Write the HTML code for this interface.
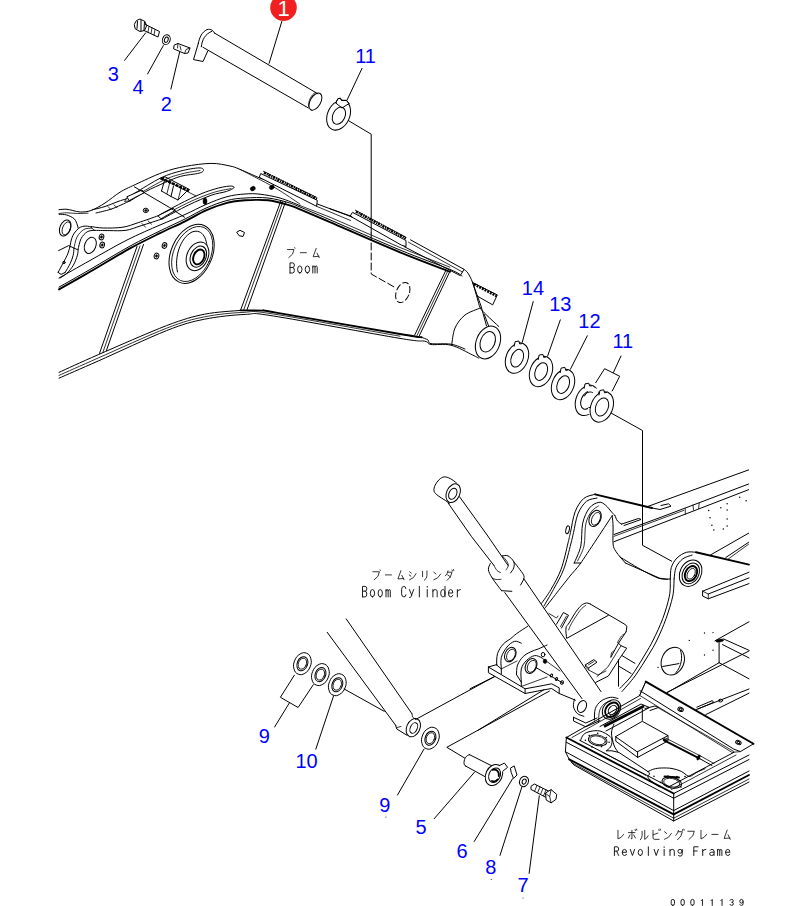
<!DOCTYPE html>
<html><head><meta charset="utf-8">
<style>
html,body{margin:0;padding:0;background:#fff;}
body{width:790px;height:906px;overflow:hidden;font-family:"Liberation Sans",sans-serif;}
svg{display:block;position:absolute;left:0;top:0;}
.l{fill:none;stroke:#000;stroke-width:1;stroke-linecap:round;stroke-linejoin:round;}
.h{fill:none;stroke:#000;stroke-width:0.8;stroke-linecap:round;stroke-linejoin:round;}
.k{fill:none;stroke:#000;stroke-width:1.9;stroke-linecap:round;stroke-linejoin:round;}
.kk{fill:none;stroke:#000;stroke-width:2.6;stroke-linecap:butt;stroke-linejoin:round;}
.w{fill:#fff;stroke:#000;stroke-width:1;stroke-linejoin:round;}
.b{fill:#000;stroke:#000;stroke-width:0.5;}
.n{font-family:"Liberation Sans",sans-serif;font-size:20px;fill:#0000ff;text-anchor:middle;}
.m{font-family:"Liberation Mono",monospace;font-size:15px;fill:#111;}
.j{fill:none;stroke:#111;stroke-width:0.95;stroke-linecap:round;stroke-linejoin:round;}
</style></head><body>
<svg width="790" height="906" viewBox="0 0 790 906">
<g id="A">
<circle cx="283.5" cy="7.6" r="13.3" fill="#f02020"/>
<text x="283.5" y="15.5" font-family="Liberation Sans,sans-serif" font-size="22" fill="#fff" text-anchor="middle">1</text>
<path class="l"  d="M281.8 21.5L269.1 63.3"/>
<path class="l"  d="M214.4 33L317.9 93.8"/>
<path class="l"  d="M203 47.3L308.4 108"/>
<ellipse class="l"  cx="315.4" cy="101.6" rx="5.2" ry="9.4" transform="rotate(30 315.4 101.6)"/>
<path class="h" d="M315.2 92.6C311.5 94.5 308 101 308.6 106.5"/>
<path class="l" d="M198.3 43.5C199.5 37 202 32 207 29.6C211 28.6 213.5 30.5 214.4 33M198.3 43.5L193.5 59.6L203 61.5L207.8 51M201.3 46.8C202 40 205 34 212 31.2"/>
<path class="l"  d="M145.6 32.9L124.6 60.3"/>
<path class="l"  d="M163.3 45.6L147.6 73.9"/>
<path class="l"  d="M179.7 51.9L170.9 89.1"/>
<ellipse class="l"  cx="166.3" cy="39.7" rx="3.8" ry="5" transform="rotate(20 166.3 39.7)"/>
<ellipse class="l"  cx="166.3" cy="39.7" rx="1.8" ry="2.8" transform="rotate(20 166.3 39.7)"/>
<path class="l"  d="M134.5 24L136.5 20.5L140 19L145 21.5L146.5 26L144.5 30.5L140 31.5L135.5 29Z"/>
<path class="l"  d="M137.5 21.5L137 28.5"/>
<path class="l"  d="M141 20L141 31"/>
<path class="l"  d="M144.5 22L144 30"/>
<path class="l"  d="M145.5 24.5L159.5 31.5L158 37L144 30.5"/>
<path class="h"  d="M149 26.5L148 32"/>
<path class="h"  d="M152 28L151 33.5"/>
<path class="h"  d="M155 29.5L154 35"/>
<path class="l"  d="M174.5 45L178 43.5L190 48L188 53L184.5 53.5L174 49Z"/>
<path class="h"  d="M178 43.5L177.5 48"/>
<path class="h"  d="M184.5 53.5L186 49.5L190 48"/>
<path class="h"  d="M180 46L181 50"/>
<text class="n" x="113.2" y="80.6">3</text>
<text class="n" x="138" y="94">4</text>
<text class="n" x="166.3" y="110.5">2</text>
<text class="n" x="365.6" y="62.9">11</text>
<path class="l"  d="M362 68.4L347 100.2"/>
<ellipse class="w"  cx="338.6" cy="115.2" rx="11" ry="15.6" transform="rotate(25 338.6 115.2)"/>
<path class="w" d="M335.8 103L337.8 98.8L340.4 98.2L341.6 100.4L346.5 100.4L349 103.5L342 108Z" stroke="none"/>
<path class="l"  d="M335.8 103L337.8 98.8L340.4 98.2L341.6 100.4L346.5 100.4L349.3 104"/>
<ellipse class="l"  cx="338.9" cy="115.7" rx="6.1" ry="9" transform="rotate(25 338.9 115.7)"/>
<path class="l"  d="M348.4 120.6L371.2 134.2L371.2 233"/>
<path class="l" stroke-dasharray="7 3" d="M371.2 233L371.2 274L396 288"/>
<ellipse class="l" stroke-dasharray="6 3" cx="402.8" cy="292.5" rx="6.5" ry="10.5" transform="rotate(22 402.8 292.5)"/>
</g>
<g id="B">
<path class="l"  d="M59 209.7C60.2 209.6 63.7 209.1 66 209.2C68.3 209.3 70.4 210 72.8 210.5C75.2 211 77.4 212 80.4 212C83.4 212 86.9 212 91 210.5C95.1 209 100.2 206.1 105 203C109.8 199.9 115 195.3 120 192.2C125 189.1 128.1 187.9 135.2 184.6C142.3 181.3 154.2 175.5 162.5 172.5C170.8 169.5 177.2 167.9 185.3 166.4C193.4 164.9 203.7 163.5 211.1 163.4C218.5 163.3 225.2 165 230 166C234.8 167 234.7 167.2 240 169.4C245.3 171.6 258.3 177.4 262 179"/>
<path class="h"  d="M59 213.5C60.3 213.4 63.7 212.8 66.7 212.8C69.8 212.8 73.8 213.4 77.3 213.5C80.8 213.6 86.2 213.2 88 213.2"/>
<path class="h"  d="M240 169.4C241.6 170.2 243.8 171.3 249.7 174.4C255.6 177.5 267.2 183.2 275.6 188.1C284 193 295.8 201.3 299.9 204"/>
<path class="l"  d="M59 278C64.2 275.1 78.7 266.8 90 260.5C101.3 254.2 115.3 245.9 127 240C138.7 234.1 150.3 229.2 160 225C169.7 220.8 177.3 217.9 185 214.5C192.7 211.1 199 207.5 206 204.5C213 201.5 220.5 198.4 227 196.7C233.5 194.9 239.5 194.4 245 194C250.5 193.6 254.2 193.5 260 194.2C265.8 194.9 273.3 196.1 280 198C286.7 199.9 296.7 204.3 300 205.6"/>
<path class="l"  d="M59 287.1C64.2 284.2 78.2 276.3 90 269.5C101.8 262.7 118.3 252.5 130 246.1C141.7 239.7 150.8 235.4 160 230.9C169.2 226.4 177.3 222.8 185 219C192.7 215.2 199 211.2 206 208.1C213 205 220.5 202.2 227 200.5C233.5 198.8 238.2 198.4 245 198C251.8 197.6 260.8 197.2 268 198C275.2 198.8 282.7 201 288 202.5C293.3 204 293 204.1 300 207C307 209.9 313.3 212.6 330 219.8C346.7 227 380 241.7 400 250C420 258.3 439.7 265.1 450 269.4C460.3 273.7 460 274.9 462 276"/>
<path class="k"  d="M59 289.4C64.2 286.5 78.2 278.6 90 271.8C101.8 265 118.3 254.8 130 248.4C141.7 242 150.8 237.7 160 233.2C169.2 228.7 177.3 225.1 185 221.3C192.7 217.5 199 213.5 206 210.4C213 207.3 220.5 204.5 227 202.8C233.5 201.1 238.2 200.7 245 200.3C251.8 199.9 260.8 199.6 268 200.3C275.2 201.1 282.7 203.3 288 204.8C293.3 206.3 293 206.4 300 209.3C307 212.2 313.3 214.9 330 222.1C346.7 229.3 380 244 400 252.3C420 260.6 441.7 268.5 450 271.7"/>
<path class="l"  d="M317.3 204L352 217"/>
<path class="h"  d="M316.6 206.3L350.5 220.5"/>
<path class="h"  d="M300 205.6L330 217.2L400 247.5L450 267.2"/>
<path class="l"  d="M261.1 173.7L317.3 200.3L316.6 206.3L259.6 177.5Z"/>
<path class="kk" stroke-dasharray="2.2 0.9 1.2 0.7" d="M264 172.6L317 198.8"/>
<path class="l" stroke-dasharray="1 1.4" d="M263.5 171.3L316.5 197.3"/>
<path class="l"  d="M352.8 212.5L406 240.5L406 246.6L401.4 245.1L350.5 216.3Z"/>
<path class="kk" stroke-dasharray="2.2 0.9 1.2 0.7" d="M356 211.6L406 238.4"/>
<path class="l" stroke-dasharray="1 1.4" d="M355.5 210.3L405.5 237"/>
<path class="l"  d="M330 208.7L351.3 216.3"/>
<path class="l"  d="M410.5 239.8L464.1 269.4L460.2 275.6L404 246.5"/>
<path class="h"  d="M408.5 242.2L462.5 272"/>
<ellipse class="b"  cx="252.8" cy="188.6" rx="2.6" ry="2.1" transform="rotate(-30 252.8 188.6)"/>
<ellipse class="b"  cx="271.8" cy="187.3" rx="2.6" ry="2.1" transform="rotate(-30 271.8 187.3)"/>
<ellipse class="b"  cx="205" cy="201.3" rx="2" ry="3.2" transform="rotate(0 205 201.3)"/>
<path class="l"  d="M237 232L240 230.3L244.5 232.5L243 236.5L239.5 235.8Z"/>
<path class="l"  d="M126 199C127.5 198 129.2 196.5 135 193C140.8 189.5 153.4 181.5 161 177.8C168.6 174.1 174.5 172.7 180.8 171C187.1 169.3 195.2 168 199 167.9C202.8 167.8 203.5 169.3 203.5 170.2C203.5 171.1 202.8 172.2 199 173.2C195.2 174.2 186.4 174.8 180.8 176.3C175.2 177.8 171.4 179.8 165.6 182.3C159.8 184.8 151.6 188.4 145.8 191.5C140 194.6 133.1 199.1 130.6 200.6"/>
<path class="h"  d="M131 198.5C136.3 195.5 154.5 184.6 163 180.5C171.5 176.4 175.8 175.5 182 173.8C188.2 172.1 197 171.1 200 170.5"/>
<path class="l"  d="M158 215.8C160.5 214.4 166.9 210.7 173.2 207.4C179.5 204.1 189.2 199 196 196C202.8 193 208.6 190.8 214.2 189.2C219.8 187.5 226.1 186.3 229.4 186.1C232.7 185.8 234.5 186.8 234 187.7C233.5 188.6 230.1 190.2 226.3 191.5C222.5 192.8 217.4 193 211.1 195.3C204.8 197.6 196.5 201.2 188.4 205.1C180.3 209 166.8 216.5 162.5 218.8"/>
<path class="h"  d="M163 215.5C167.5 213.2 181.7 205.6 190 201.8C198.3 198 206.2 194.8 213 192.6C219.8 190.4 228 189.3 231 188.6"/>
<path class="l"  d="M92.5 209.7C94.6 209.2 100.8 207.9 105 206.5C109.2 205.1 114.5 202.8 118 201.5C121.5 200.2 124.7 199.4 126 199"/>
<path class="l"  d="M96 213C98.3 212.4 105.8 210.8 110 209.5C114.2 208.2 117.6 206.5 121 205C124.4 203.5 129 201.3 130.6 200.6"/>
<path class="h"  d="M126 199L124.5 201.5L130.6 200.6"/>
<path class="h"  d="M148 220.8L151.5 224.2"/>
<path class="h"  d="M142 223.5L145.5 227.2"/>
<path class="h"  d="M114 204.8L117 207.8"/>
<path class="h"  d="M108 206.6L111 209.6"/>
<path class="w"  d="M126.8 196.8L142 190L144.3 192.7L129.1 200.6Z"/>
<path class="w"  d="M158 215.8L173.2 208.2L175.4 210.4L161 218.8Z"/>
<path class="l"  d="M134.4 186.9L169.4 207.4L184.6 217.3"/>
<path class="h"  d="M161 177.8L196 196"/>
<path class="l"  d="M160.5 179L165 176.8L189.5 189.5L186.5 191.5L178 200L171 196.5L161.5 191"/>
<path class="l"  d="M161.5 191L164.5 180.5"/>
<path class="l"  d="M171 196.5L173.5 186"/>
<path class="h"  d="M178 200L181 188.5"/>
<path class="h"  d="M167 193.5L169.5 183.5"/>
<path class="kk" stroke-dasharray="3 1" d="M161 178.2L189 191"/>
<ellipse class="l"  cx="145.8" cy="210.4" rx="2.6" ry="2.2" transform="rotate(0 145.8 210.4)"/>
<ellipse class="b"  cx="145.8" cy="210.4" rx="1.2" ry="1" transform="rotate(0 145.8 210.4)"/>
<path class="l"  d="M59 372.4C65.5 369.4 80.3 362.5 98.2 354.7C116.1 346.9 148.9 332.4 166.6 325.6C184.3 318.9 192.3 316.7 204.6 314.2C216.9 311.7 234.5 311 240.5 310.4"/>
<path class="k"  d="M240.5 310.4C244.3 310.4 257.4 310.2 263.3 310.6C269.2 311 253.2 308.7 276 312.6C298.8 316.5 375.7 329.9 400 334C424.3 338.1 418 336.8 421.6 337.3"/>
<path class="h"  d="M59 375.4C65.5 372.5 80.3 365.9 98.2 358C116.1 350.1 148.9 335.1 166.6 328.2C184.3 321.3 191.9 319.4 204.6 316.8C217.3 314.2 231.5 312.9 243 312.4C254.5 311.9 247.2 310 273.4 314C299.6 318 378.9 332.5 400 336.2"/>
<path class="l"  d="M59 378.2C65.5 375.3 80.3 368.9 98.2 361C116.1 353.1 148.9 337.6 166.6 330.6C184.3 323.6 191.4 321.9 204.6 319.2C217.8 316.5 234.1 314.9 245.6 314.4C257.1 313.9 247.7 312 273.4 316C299.1 320 374.8 334.2 400 338.4C425.2 342.6 419.6 340.2 424.7 341.2C429.8 342.2 426.5 343.8 430.9 344.5C435.3 345.2 444.1 343.4 451 345.2C457.9 346.9 468 352.8 472.6 355C477.2 357.2 477.8 357.7 478.8 358.2"/>
<path class="l"  d="M421.6 337.3C422.7 337.8 426.4 338.9 428 340C429.6 341.1 427.2 342.9 431 343.6C434.8 344.3 445.3 343.3 451 344.2C456.7 345.1 462.7 348.2 465 349"/>
<path class="l"  d="M137 246.5L99.5 353.4"/>
<path class="h"  d="M140 246L102.8 352.6"/>
<path class="l"  d="M143.5 244.5L106.3 350.9"/>
<path class="l"  d="M281 200.6L240.5 310.4"/>
<path class="h"  d="M283 201.2L243.5 310.4"/>
<path class="l"  d="M285.5 202L246.8 310.4"/>
<path class="l"  d="M445.6 270.9L414.7 335"/>
<path class="h"  d="M447.5 271.7L417 335.4"/>
<path class="l"  d="M449.4 272.5L419.3 335.8"/>
<ellipse class="l"  cx="191.6" cy="253.8" rx="20.5" ry="31" transform="rotate(24 191.6 253.8)"/>
<ellipse class="h"  cx="192.2" cy="254" rx="18.5" ry="29" transform="rotate(24 192.2 254)"/>
<path class="l" d="M177.5 272C174 258 180 238 192 232C203 228 208 240 207 252"/>
<ellipse class="w"  cx="197.5" cy="256.3" rx="10.5" ry="15" transform="rotate(24 197.5 256.3)"/>
<ellipse class="l"  cx="198.3" cy="256.6" rx="7.6" ry="11" transform="rotate(24 198.3 256.6)"/>
<ellipse class="k"  cx="198.8" cy="256.9" rx="5.2" ry="7.8" transform="rotate(24 198.8 256.9)"/>
<ellipse class="l"  cx="164.5" cy="245.5" rx="2.3" ry="2.9" transform="rotate(15 164.5 245.5)"/>
<ellipse class="b"  cx="164.5" cy="245.5" rx="1" ry="1.3" transform="rotate(15 164.5 245.5)"/>
<ellipse class="l"  cx="156.5" cy="256" rx="2.3" ry="2.9" transform="rotate(15 156.5 256)"/>
<ellipse class="b"  cx="156.5" cy="256" rx="1" ry="1.3" transform="rotate(15 156.5 256)"/>
<ellipse class="l"  cx="102.2" cy="245" rx="2.3" ry="2.9" transform="rotate(15 102.2 245)"/>
<ellipse class="b"  cx="102.2" cy="245" rx="1" ry="1.3" transform="rotate(15 102.2 245)"/>
<ellipse class="l"  cx="101.5" cy="237" rx="2.3" ry="2.9" transform="rotate(15 101.5 237)"/>
<ellipse class="b"  cx="101.5" cy="237" rx="1" ry="1.3" transform="rotate(15 101.5 237)"/>
<ellipse class="l"  cx="65.2" cy="228" rx="5.3" ry="8.4" transform="rotate(22 65.2 228)"/>
<ellipse class="h"  cx="66.4" cy="228.4" rx="3.8" ry="6.8" transform="rotate(22 66.4 228.4)"/>
<path class="l"  d="M59.1 214.3C60.4 214.4 64.2 214.2 66.7 215C69.2 215.8 72.5 217.2 74.3 218.9C76.1 220.6 76.7 223.5 77.3 225C77.9 226.5 78 227.5 78.1 228"/>
<ellipse class="l" stroke-width="1.5" cx="90.3" cy="245.4" rx="5.6" ry="8.4" transform="rotate(22 90.3 245.4)"/>
<path class="l"  d="M69.7 247.7C70.2 245.7 71 239 72.8 235.6C74.6 232.2 77.6 228.7 80.4 227.2C83.2 225.7 87.2 226 89.5 226.5C91.8 227 93.2 229.7 94 230.3"/>
<path class="h"  d="M73.9 248.5C74.4 246.6 75.3 240.2 77 237C78.7 233.8 81.4 231 83.8 229.5C86.2 228 90.2 228.4 91.5 228.2"/>
<path class="l"  d="M78.1 249.2C78.6 247.4 79.6 241.5 81.1 238.6C82.6 235.7 85 233.2 87.2 231.8C89.4 230.4 92.9 230.6 94 230.3"/>
<path class="l"  d="M69.7 247.7C69.3 248.9 68.3 252.7 67.2 255.2C66.1 257.7 64.7 259.9 63.2 262.8C61.7 265.7 59 270.8 58.1 272.4"/>
<path class="l"  d="M58.1 272.4L61.1 274.4L65.2 272.4"/>
<path class="l"  d="M73.9 248.5C73.8 249.6 73.8 252.7 73.2 255.2C72.6 257.7 71.6 260.4 70.3 263.3C69 266.2 66 270.9 65.2 272.4"/>
<path class="l"  d="M78.1 249.2C78 250.2 78.2 252.5 77.4 255.2C76.6 257.9 75.1 262.3 73.3 265.3C71.5 268.3 68.9 271.3 66.7 273.4C64.5 275.5 61.2 277.2 60.1 278"/>
<path class="l"  d="M58.6 250.6L68.7 245.6L77.3 249.6"/>
<ellipse class="l"  cx="64" cy="262.5" rx="1.2" ry="1.2" transform="rotate(0 64 262.5)"/>
<path class="l"  d="M91 226.5C93 226.8 97.9 227.9 103.2 228C108.5 228.1 117.1 228.1 122.9 227.2C128.7 226.3 132.2 224.6 138.1 222.7C143.9 220.8 154.7 217 158 215.8"/>
<path class="l"  d="M94 230.3C96.5 230.4 103.9 230.6 109.2 230.6C114.5 230.6 120.7 231.1 126 230.3C131.3 229.5 135 227.6 141.1 225.7C147.2 223.8 158.9 220 162.5 218.8"/>
<path class="l"  d="M480.3 308C477.8 309.2 469.2 311.7 465 315C460.8 318.3 457.2 323 455 328C452.8 333 452.2 342.2 451.7 345"/>
<path class="l"  d="M464.1 269.4C464.8 270 466.6 271 468 273.2C469.4 275.4 471.1 278.4 472.6 282.5C474.1 286.6 475.9 293.8 477.2 298C478.5 302.2 478.8 305.2 480.3 308C481.9 310.8 483.4 311.9 486.5 315C489.6 318.1 496.8 324.6 498.8 326.5"/>
<path class="l"  d="M472.6 282.5L481 306L486.5 325.8"/>
<path class="l"  d="M484.2 314.2L488.8 326.5"/>
<ellipse class="w"  cx="488" cy="342.5" rx="11.8" ry="17" transform="rotate(22 488 342.5)"/>
<ellipse class="l"  cx="487.7" cy="341.8" rx="7.2" ry="10.6" transform="rotate(22 487.7 341.8)"/>
<path class="l"  d="M472.6 282.5L497.3 294.9L492.7 304.9L477.2 296"/>
<path class="kk" stroke-dasharray="2 1" d="M474 284.2L496.5 296"/>
</g>
<g id="TXT">
<path class="j" transform="translate(286.6 247.3) scale(0.87 0.9)" d="M1 2.5L8.5 2.5Q8.3 8 2.5 11.5M9.3 0.4L9.6 1"/>
<path class="j" transform="translate(299 247.3) scale(0.87 0.9)" d="M1.5 6L8.5 6"/>
<path class="j" transform="translate(311.4 247.3) scale(0.87 0.9)" d="M5.5 1.2L2 10.5L8.6 10M6.5 6.5L9 11.5"/>
<path class="j" stroke-width="1.0" vector-effect="non-scaling-stroke" transform="translate(290 273) scale(0.88 -1.01)" d="M0 0L0 10L3 10Q5 10 5 7.8Q5 5.5 3 5.5L0 5.5M3 5.5Q5 5.5 5 2.8Q5 0 3 0L0 0"/>
<path class="j" stroke-width="1.0" vector-effect="non-scaling-stroke" transform="translate(297.6 273) scale(0.88 -1.01)" d="M2.5 0Q0 0 0 3.5Q0 7 2.5 7Q5 7 5 3.5Q5 0 2.5 0Z"/>
<path class="j" stroke-width="1.0" vector-effect="non-scaling-stroke" transform="translate(305.2 273) scale(0.88 -1.01)" d="M2.5 0Q0 0 0 3.5Q0 7 2.5 7Q5 7 5 3.5Q5 0 2.5 0Z"/>
<path class="j" stroke-width="1.0" vector-effect="non-scaling-stroke" transform="translate(312.8 273) scale(0.88 -1.01)" d="M0 0L0 7M0 5.8Q0.3 7 1.4 7Q2.5 7 2.5 5.5L2.5 0M2.5 5.8Q2.8 7 3.9 7Q5 7 5 5.5L5 0"/>
<path class="j" transform="translate(372 569.5) scale(0.87 0.9)" d="M1 2.5L8.5 2.5Q8.3 8 2.5 11.5M9.3 0.4L9.6 1"/>
<path class="j" transform="translate(384.1 569.5) scale(0.87 0.9)" d="M1.5 6L8.5 6"/>
<path class="j" transform="translate(396.2 569.5) scale(0.87 0.9)" d="M5.5 1.2L2 10.5L8.6 10M6.5 6.5L9 11.5"/>
<path class="j" transform="translate(408.3 569.5) scale(0.87 0.9)" d="M1.5 2.5L3.5 4M1 6L3 7.5M1.5 11.5Q6.8 10 9 4.5"/>
<path class="j" transform="translate(420.4 569.5) scale(0.87 0.9)" d="M2.5 2L2.5 8M7.5 1.5L7.5 7Q7.5 10 4.5 12"/>
<path class="j" transform="translate(432.5 569.5) scale(0.87 0.9)" d="M1.5 3L4 5M1.5 11.5Q6.5 10.5 9.5 5"/>
<path class="j" transform="translate(444.6 569.5) scale(0.87 0.9)" d="M4 1.5Q3.5 4.5 1 7M4 3L8.5 3Q8 8 3 12M3.5 6L7 8.5M8.6 0.6L9 1.8M10.2 0L10.6 1.2"/>
<path class="j" stroke-width="1.0" vector-effect="non-scaling-stroke" transform="translate(362.5 596.9) scale(0.86 -1.05)" d="M0 0L0 10L3 10Q5 10 5 7.8Q5 5.5 3 5.5L0 5.5M3 5.5Q5 5.5 5 2.8Q5 0 3 0L0 0"/>
<path class="j" stroke-width="1.0" vector-effect="non-scaling-stroke" transform="translate(370.3 596.9) scale(0.86 -1.05)" d="M2.5 0Q0 0 0 3.5Q0 7 2.5 7Q5 7 5 3.5Q5 0 2.5 0Z"/>
<path class="j" stroke-width="1.0" vector-effect="non-scaling-stroke" transform="translate(378.1 596.9) scale(0.86 -1.05)" d="M2.5 0Q0 0 0 3.5Q0 7 2.5 7Q5 7 5 3.5Q5 0 2.5 0Z"/>
<path class="j" stroke-width="1.0" vector-effect="non-scaling-stroke" transform="translate(386 596.9) scale(0.86 -1.05)" d="M0 0L0 7M0 5.8Q0.3 7 1.4 7Q2.5 7 2.5 5.5L2.5 0M2.5 5.8Q2.8 7 3.9 7Q5 7 5 5.5L5 0"/>
<path class="j" stroke-width="1.0" vector-effect="non-scaling-stroke" transform="translate(401.6 596.9) scale(0.86 -1.05)" d="M5 8Q5 10 2.7 10Q0 10 0 7L0 3Q0 0 2.7 0Q5 0 5 2"/>
<path class="j" stroke-width="1.0" vector-effect="non-scaling-stroke" transform="translate(409.4 596.9) scale(0.86 -1.05)" d="M0 7L2.6 1.8M5 7L2.6 1.8L1.8 0Q1.4 -0.6 0.3 -0.6"/>
<path class="j" stroke-width="1.0" vector-effect="non-scaling-stroke" transform="translate(417.2 596.9) scale(0.86 -1.05)" d="M2.5 10L2.5 0"/>
<path class="j" stroke-width="1.0" vector-effect="non-scaling-stroke" transform="translate(425.1 596.9) scale(0.86 -1.05)" d="M2.5 7L2.5 0M2.5 9.2L2.5 10"/>
<path class="j" stroke-width="1.0" vector-effect="non-scaling-stroke" transform="translate(432.9 596.9) scale(0.86 -1.05)" d="M0 0L0 7M0 5.3Q0.6 7 2.7 7Q5 7 5 5L5 0"/>
<path class="j" stroke-width="1.0" vector-effect="non-scaling-stroke" transform="translate(440.7 596.9) scale(0.86 -1.05)" d="M5 10L5 0M5 3.5Q5 0 2.5 0Q0 0 0 3.5Q0 7 2.5 7Q5 7 5 3.5"/>
<path class="j" stroke-width="1.0" vector-effect="non-scaling-stroke" transform="translate(448.5 596.9) scale(0.86 -1.05)" d="M0 3.7L5 3.7Q5 7 2.5 7Q0 7 0 3.5Q0 0 2.5 0Q4.3 0 5 1.5"/>
<path class="j" stroke-width="1.0" vector-effect="non-scaling-stroke" transform="translate(456.3 596.9) scale(0.86 -1.05)" d="M1.2 0L1.2 7M1.2 5Q2 7 4.8 7"/>
<path class="j" transform="translate(615.8 829) scale(0.87 0.9)" d="M2.5 1.5L2.5 11Q6.5 10 9 6"/>
<path class="j" transform="translate(627.6 829) scale(0.87 0.9)" d="M1 4L8.5 4M5 1.5L5 11L4 10.5M2.8 6.5L1 10M7 6.5L9 10M8.6 0.6L9 1.8M10.2 0L10.6 1.2"/>
<path class="j" transform="translate(639.5 829) scale(0.87 0.9)" d="M3 2.5L3 7Q3 10 1 12M6 1.5L6 11.5Q8.5 10.5 10 7.5"/>
<path class="j" transform="translate(651.3 829) scale(0.87 0.9)" d="M2 1.5L2 10Q2 11.5 4 11.5L9 11.5M2 6.5L7.5 4.5M8.6 0.6L9 1.8M10.2 0L10.6 1.2"/>
<path class="j" transform="translate(663.2 829) scale(0.87 0.9)" d="M1.5 3L4 5M1.5 11.5Q6.5 10.5 9.5 5"/>
<path class="j" transform="translate(675 829) scale(0.87 0.9)" d="M4 1.5Q3.5 4.5 1 7M4 3L8.5 3Q8 8 3 12M8.6 0.6L9 1.8M10.2 0L10.6 1.2"/>
<path class="j" transform="translate(686.9 829) scale(0.87 0.9)" d="M1 2.5L8.5 2.5Q8.3 8 2.5 11.5"/>
<path class="j" transform="translate(698.8 829) scale(0.87 0.9)" d="M2.5 1.5L2.5 11Q6.5 10 9 6"/>
<path class="j" transform="translate(710.6 829) scale(0.87 0.9)" d="M1.5 6L8.5 6"/>
<path class="j" transform="translate(722.4 829) scale(0.87 0.9)" d="M5.5 1.2L2 10.5L8.6 10M6.5 6.5L9 11.5"/>
<path class="j" stroke-width="1.0" vector-effect="non-scaling-stroke" transform="translate(614.4 855.5) scale(0.86 -0.87)" d="M0 0L0 10L3 10Q5 10 5 7.5Q5 5 3 5L0 5M2.6 5L5 0"/>
<path class="j" stroke-width="1.0" vector-effect="non-scaling-stroke" transform="translate(622.3 855.5) scale(0.86 -0.87)" d="M0 3.7L5 3.7Q5 7 2.5 7Q0 7 0 3.5Q0 0 2.5 0Q4.3 0 5 1.5"/>
<path class="j" stroke-width="1.0" vector-effect="non-scaling-stroke" transform="translate(630.3 855.5) scale(0.86 -0.87)" d="M0 7L2.5 0L5 7"/>
<path class="j" stroke-width="1.0" vector-effect="non-scaling-stroke" transform="translate(638.2 855.5) scale(0.86 -0.87)" d="M2.5 0Q0 0 0 3.5Q0 7 2.5 7Q5 7 5 3.5Q5 0 2.5 0Z"/>
<path class="j" stroke-width="1.0" vector-effect="non-scaling-stroke" transform="translate(646.2 855.5) scale(0.86 -0.87)" d="M2.5 10L2.5 0"/>
<path class="j" stroke-width="1.0" vector-effect="non-scaling-stroke" transform="translate(654.1 855.5) scale(0.86 -0.87)" d="M0 7L2.5 0L5 7"/>
<path class="j" stroke-width="1.0" vector-effect="non-scaling-stroke" transform="translate(662 855.5) scale(0.86 -0.87)" d="M2.5 7L2.5 0M2.5 9.2L2.5 10"/>
<path class="j" stroke-width="1.0" vector-effect="non-scaling-stroke" transform="translate(670 855.5) scale(0.86 -0.87)" d="M0 0L0 7M0 5.3Q0.6 7 2.7 7Q5 7 5 5L5 0"/>
<path class="j" stroke-width="1.0" vector-effect="non-scaling-stroke" transform="translate(677.9 855.5) scale(0.86 -0.87)" d="M5 7L5 1Q5 -0.7 2.5 -0.7Q1 -0.7 0.3 0.2M5 4.8Q5 2.6 2.5 2.6Q0 2.6 0 4.8Q0 7 2.5 7Q5 7 5 4.8"/>
<path class="j" stroke-width="1.0" vector-effect="non-scaling-stroke" transform="translate(693.8 855.5) scale(0.86 -0.87)" d="M0 0L0 10L5 10M0 5.2L4 5.2"/>
<path class="j" stroke-width="1.0" vector-effect="non-scaling-stroke" transform="translate(701.7 855.5) scale(0.86 -0.87)" d="M1.2 0L1.2 7M1.2 5Q2 7 4.8 7"/>
<path class="j" stroke-width="1.0" vector-effect="non-scaling-stroke" transform="translate(709.7 855.5) scale(0.86 -0.87)" d="M0.5 6Q1 7 2.7 7Q5 7 5 5L5 0M5 3.8L2.3 3.8Q0 3.8 0 1.8Q0 0 2.2 0Q4 0 5 1.5"/>
<path class="j" stroke-width="1.0" vector-effect="non-scaling-stroke" transform="translate(717.6 855.5) scale(0.86 -0.87)" d="M0 0L0 7M0 5.8Q0.3 7 1.4 7Q2.5 7 2.5 5.5L2.5 0M2.5 5.8Q2.8 7 3.9 7Q5 7 5 5.5L5 0"/>
<path class="j" stroke-width="1.0" vector-effect="non-scaling-stroke" transform="translate(725.6 855.5) scale(0.86 -0.87)" d="M0 3.7L5 3.7Q5 7 2.5 7Q0 7 0 3.5Q0 0 2.5 0Q4.3 0 5 1.5"/>
<path class="j" stroke-width="0.95" vector-effect="non-scaling-stroke" transform="translate(671.2 905.4) scale(0.66 -0.6)" d="M2.5 0Q0 0 0 3L0 7Q0 10 2.5 10Q5 10 5 7L5 3Q5 0 2.5 0Z"/>
<path class="j" stroke-width="0.95" vector-effect="non-scaling-stroke" transform="translate(681 905.4) scale(0.66 -0.6)" d="M2.5 0Q0 0 0 3L0 7Q0 10 2.5 10Q5 10 5 7L5 3Q5 0 2.5 0Z"/>
<path class="j" stroke-width="0.95" vector-effect="non-scaling-stroke" transform="translate(690.8 905.4) scale(0.66 -0.6)" d="M2.5 0Q0 0 0 3L0 7Q0 10 2.5 10Q5 10 5 7L5 3Q5 0 2.5 0Z"/>
<path class="j" stroke-width="0.95" vector-effect="non-scaling-stroke" transform="translate(700.6 905.4) scale(0.66 -0.6)" d="M1 8L2.8 10L2.8 0"/>
<path class="j" stroke-width="0.95" vector-effect="non-scaling-stroke" transform="translate(710.4 905.4) scale(0.66 -0.6)" d="M1 8L2.8 10L2.8 0"/>
<path class="j" stroke-width="0.95" vector-effect="non-scaling-stroke" transform="translate(720.2 905.4) scale(0.66 -0.6)" d="M1 8L2.8 10L2.8 0"/>
<path class="j" stroke-width="0.95" vector-effect="non-scaling-stroke" transform="translate(730 905.4) scale(0.66 -0.6)" d="M0 8.5Q0.5 10 2.5 10Q5 10 5 7.7Q5 5.3 2.5 5.3Q5 5.3 5 2.6Q5 0 2.5 0Q0.5 0 0 1.5"/>
<path class="j" stroke-width="0.95" vector-effect="non-scaling-stroke" transform="translate(739.8 905.4) scale(0.66 -0.6)" d="M5 6.5Q5 3.8 2.5 3.8Q0 3.8 0 6.8Q0 10 2.5 10Q5 10 5 6.5L5 3Q5 0 2.5 0Q0.7 0 0.2 1.2"/>
</g>
<g id="C">
<ellipse class="w"  cx="517" cy="358.1" rx="10.9" ry="15.8" transform="rotate(22 517 358.1)"/>
<path d="M514.2 346.2L515.1 341.7L518.9 341L519.7 344L522.8 343.4L525.9 345.9L523 349.1L516 349.1Z" fill="#fff" stroke="none"/>
<path class="l"  d="M514.2 346.2L515.1 341.7L518.9 341L519.7 344L522.8 343.4L525.9 345.9"/>
<ellipse class="l"  cx="517.2" cy="358.2" rx="5.9" ry="9.2" transform="rotate(22 517.2 358.2)"/>
<ellipse class="w"  cx="541" cy="371.5" rx="10.9" ry="15.8" transform="rotate(22 541 371.5)"/>
<path d="M538.2 359.6L539.1 355.1L542.9 354.4L543.7 357.4L546.8 356.8L549.9 359.3L547 362.5L540 362.5Z" fill="#fff" stroke="none"/>
<path class="l"  d="M538.2 359.6L539.1 355.1L542.9 354.4L543.7 357.4L546.8 356.8L549.9 359.3"/>
<ellipse class="l"  cx="541.2" cy="371.6" rx="5.9" ry="9.2" transform="rotate(22 541.2 371.6)"/>
<ellipse class="w"  cx="563" cy="384.5" rx="10.9" ry="15.8" transform="rotate(22 563 384.5)"/>
<path d="M560.2 372.6L561.1 368.1L564.9 367.4L565.7 370.4L568.8 369.8L571.9 372.3L569 375.5L562 375.5Z" fill="#fff" stroke="none"/>
<path class="l"  d="M560.2 372.6L561.1 368.1L564.9 367.4L565.7 370.4L568.8 369.8L571.9 372.3"/>
<ellipse class="l"  cx="563.2" cy="384.6" rx="5.9" ry="9.2" transform="rotate(22 563.2 384.6)"/>
<ellipse class="w"  cx="586.9" cy="400.3" rx="10.9" ry="15.8" transform="rotate(22 586.9 400.3)"/>
<path d="M584.1 388.4L585 383.9L588.8 383.2L589.6 386.2L592.7 385.6L595.8 388.1L592.9 391.3L585.9 391.3Z" fill="#fff" stroke="none"/>
<path class="l"  d="M584.1 388.4L585 383.9L588.8 383.2L589.6 386.2L592.7 385.6L595.8 388.1"/>
<ellipse class="l"  cx="587.1" cy="400.4" rx="5.9" ry="9.2" transform="rotate(22 587.1 400.4)"/>
<path d="M588 386L598 389L597 414L588 414Z" fill="#fff" stroke="none"/>
<path class="l" d="M592.5 392.5C589.5 391 586 392.5 584.5 396M588.8 407.5C590.5 408 592.5 407 593.8 405.5"/>
<ellipse class="w"  cx="601.8" cy="406.9" rx="10.9" ry="15.8" transform="rotate(22 601.8 406.9)"/>
<path d="M599 395L599.9 390.5L603.7 389.8L604.5 392.8L607.6 392.2L610.7 394.7L607.8 397.9L600.8 397.9Z" fill="#fff" stroke="none"/>
<path class="l"  d="M599 395L599.9 390.5L603.7 389.8L604.5 392.8L607.6 392.2L610.7 394.7"/>
<ellipse class="l"  cx="602" cy="407" rx="6.2" ry="9.4" transform="rotate(22 602 407)"/>
<path class="l"  d="M533.2 301.6L522.3 342.2"/>
<path class="l"  d="M560.3 319.9L547.6 356.1"/>
<path class="l"  d="M587.3 335.8L570.4 369.2"/>
<path class="l"  d="M621 356L613.4 372.5"/>
<path class="l"  d="M595.7 382.7L604.6 368.7L619.7 376.3L612.2 391"/>
<text class="n" x="532.9" y="295.4">14</text>
<text class="n" x="560.3" y="311.4">13</text>
<text class="n" x="589.4" y="327.8">12</text>
<text class="n" x="622.8" y="348.1">11</text>
<path class="l"  d="M611.4 413.2L642.5 430.5L642.5 545.3L671.7 561.2"/>
</g>
<g id="E">
<path class="l"  d="M541.5 603.4C543.1 601.1 547.7 595.1 551 589.4C554.3 583.7 558.2 577 561.1 569.2C564 561.4 566.6 548.7 568.1 542.6C569.6 536.5 569.2 537.8 570.4 532.7C571.6 527.6 572.9 517.5 575.1 511.8C577.3 506.1 580.4 501.4 583.7 498.5C587 495.6 593.2 495 595.1 494.3"/>
<path class="l"  d="M544 605.9C545.6 603.1 550.2 595.5 553.5 589.4C556.8 583.3 560.8 576.8 563.7 569.2C566.6 561.6 569.2 550.1 570.8 544C572.4 537.9 572.3 537.8 573.5 532.7C574.7 527.7 575.8 518.9 578 513.7C580.2 508.5 583.3 503.9 586.5 501.3C589.7 498.7 595.2 498.6 597 498.1"/>
<path class="l"  d="M574.2 563C575.3 560.2 579.4 552.6 580.8 546C582.2 539.4 581.3 529.5 582.7 523.2C584.1 516.9 586.7 511.5 589.4 508C592.1 504.5 596.2 502.8 598.9 502.3C601.6 501.8 603.3 503.4 605.5 505.1C607.7 506.8 610.6 511 612.2 512.7C613.8 514.5 614.5 515.1 615 515.6"/>
<path class="h"  d="M577.5 561C578.6 558.5 582.6 552.2 584 546C585.4 539.8 584.5 529.8 585.8 524C587 518.2 589.4 514.5 591.5 511.5C593.6 508.5 597.3 506.9 598.5 506"/>
<path class="l"  d="M580.8 563L574.2 563"/>
<path class="l"  d="M612.2 515.6C609.1 520.3 585 557 580.8 563C576.6 569 572.2 573.2 570 576C567.8 578.8 561.1 587.3 558.6 590.5C556.1 593.7 546.1 606.6 544.7 608.4"/>
<ellipse class="l"  cx="595.1" cy="518.4" rx="5.6" ry="8.5" transform="rotate(25 595.1 518.4)"/>
<ellipse class="h"  cx="596" cy="518.8" rx="4" ry="6.8" transform="rotate(25 596 518.8)"/>
<ellipse class="l"  cx="567.6" cy="529.8" rx="1.7" ry="4" transform="rotate(12 567.6 529.8)"/>
<path class="k"  d="M595.1 494.3L652 508"/>
<path class="l"  d="M652 508L660 509.5L671 506.2L668.5 503.8L661 505.5"/>
<path class="l"  d="M612.2 515.6C612.4 517.5 613 522.3 613.1 527C613.2 531.7 612.6 539.9 613.1 544C613.6 548.1 614 548.4 616 551.6C618 554.8 623.8 561.1 625.4 563"/>
<path class="l"  d="M625.4 563L659.6 578.2L667.2 579.2L670.3 578.9"/>
<path class="l"  d="M615 515.6C615.4 516.5 616.4 519.6 617.5 521C618.6 522.4 620.9 523.6 621.6 524.1"/>
<path class="l"  d="M621.6 524.1L638.7 518.4L641 519.5L624 525.5"/>
<path class="l"  d="M646.3 507L748.6 469.9"/>
<path class="l"  d="M614 534.5L660 517.6L748.6 484"/>
<path class="h"  d="M614 536.3L684 510.3"/>
<path class="l"  d="M614 541.7L660 523.9L748.6 489.7"/>
<path class="h"  d="M685.3 508.7L685.3 514.4"/>
<path class="h"  d="M693 505L693.5 510"/>
<path class="h"  d="M699.2 503L698.6 508.7"/>
<circle cx="708.7" cy="510.6" r="0.75" fill="#000"/>
<circle cx="720.8" cy="507.8" r="0.75" fill="#000"/>
<circle cx="727.1" cy="503.7" r="0.75" fill="#000"/>
<circle cx="739.7" cy="497.3" r="0.75" fill="#000"/>
<circle cx="746.1" cy="500.8" r="0.75" fill="#000"/>
<circle cx="710" cy="517.8" r="0.75" fill="#000"/>
<circle cx="727.1" cy="510" r="0.75" fill="#000"/>
<circle cx="711.9" cy="525.2" r="0.75" fill="#000"/>
<circle cx="727.1" cy="518.9" r="0.75" fill="#000"/>
<circle cx="713.8" cy="530" r="0.75" fill="#000"/>
<circle cx="723.3" cy="529" r="0.75" fill="#000"/>
<circle cx="727.1" cy="526.1" r="0.75" fill="#000"/>
<circle cx="704.5" cy="633" r="0.7" fill="#000"/>
<circle cx="713" cy="632.6" r="0.7" fill="#000"/>
<circle cx="689.3" cy="640.4" r="0.7" fill="#000"/>
<circle cx="713" cy="650.3" r="0.7" fill="#000"/>
<circle cx="704.5" cy="655" r="0.7" fill="#000"/>
<circle cx="658" cy="667.4" r="0.7" fill="#000"/>
<path class="l"  d="M670.3 578.9C670.5 577 670.2 571 671.3 567.5C672.4 564 674.5 560.5 677 558C679.5 555.5 683.3 553.2 686.5 552.3C689.7 551.3 694.4 552.3 696 552.3"/>
<path class="l"  d="M674.1 578.9C674.4 577 674.6 570.8 676 567.5C677.4 564.2 680 561 682.7 558.9C685.4 556.8 690.5 555.7 692.1 555.1"/>
<path class="k"  d="M696 552.3L749 564.6"/>
<ellipse class="l"  cx="690.6" cy="573.2" rx="10.6" ry="13.8" transform="rotate(28 690.6 573.2)"/>
<ellipse class="l"  cx="690.8" cy="573.4" rx="8" ry="11" transform="rotate(28 690.8 573.4)"/>
<ellipse class="k"  cx="691" cy="573.6" rx="5.6" ry="8" transform="rotate(28 691 573.6)"/>
<ellipse class="h"  cx="691.2" cy="573.8" rx="3.6" ry="5.8" transform="rotate(28 691.2 573.8)"/>
<path class="l"  d="M670.3 578.9C670.1 581.8 670.7 589.4 669.4 596C668.1 602.6 665.4 611.4 662.7 618.7C660 626 656.2 634 653.2 640C650.2 646 648.3 649 644.7 655C641.1 661 635.5 670.5 631.4 676C627.3 681.5 621.9 686.2 620 688.3"/>
<path class="l"  d="M674.1 578.9C673.9 581.8 674.1 589.4 672.8 596C671.4 602.6 668.6 611.4 666 618.7C663.4 626 659.9 634 657 640C654.1 646 652.2 649 648.5 655C644.8 661 639.4 669.9 635 676C630.6 682.1 624.2 688.9 622 691.5"/>
<path class="l"  d="M620 557C623.3 559 633.7 565.5 640 569C646.3 572.5 653.4 576.3 658 578C662.6 579.7 665.9 579 667.5 579.2"/>
<path class="l"  d="M702.6 591.2L749 572.2"/>
<path class="l"  d="M702.6 591.2L702.6 596L708.3 598.8L749 583.6"/>
<path class="l"  d="M708.3 594L749 577.9"/>
<path class="h"  d="M702.6 591.2L708.3 594L708.3 598.8"/>
<path class="l"  d="M710.6 554.9L748.6 533.2"/>
<path class="l"  d="M725.8 557.5L748.6 542.3"/>
<path class="h"  d="M728 559.2L748.6 544.2"/>
<ellipse class="l"  cx="672.8" cy="661.1" rx="11.2" ry="14.3" transform="rotate(22 672.8 661.1)"/>
<path class="l"  d="M662.7 666.5L678.9 663.6"/>
<path class="l" d="M680.5 650.5C683 656 681.5 667 676 672.5"/>
<path class="l"  d="M715 640.8L749 621.8"/>
<path class="l"  d="M719.1 642.7L719.1 662.7"/>
<path class="l"  d="M719.1 662.7L666.5 693"/>
<path class="l"  d="M719.1 662.7L749 678.8"/>
<path class="l"  d="M723.5 638.9L749 650.3"/>
<path class="l"  d="M722.5 644.6L749 657.9"/>
<ellipse class="b"  cx="719.7" cy="640.6" rx="4" ry="1.4" transform="rotate(-8 719.7 640.6)"/>
<path class="k"  d="M645.8 681.6L753.5 743.8"/>
<path class="h"  d="M645.8 681.6L639.5 695.7"/>
<path class="l"  d="M753.5 743.8L740.4 751.6L733.8 749.1L640 690.7"/>
<path class="h"  d="M640 695.6L732 752.4L740.4 751.6"/>
<ellipse class="l"  cx="680.6" cy="709.3" rx="2.8" ry="2" transform="rotate(20 680.6 709.3)"/>
<ellipse class="l"  cx="680.6" cy="709.3" rx="1.4" ry="1" transform="rotate(20 680.6 709.3)"/>
<ellipse class="l"  cx="738.4" cy="742.5" rx="2.8" ry="2" transform="rotate(20 738.4 742.5)"/>
<ellipse class="l"  cx="738.4" cy="742.5" rx="1.4" ry="1" transform="rotate(20 738.4 742.5)"/>
<path class="l"  d="M566.4 737.5L639.5 695.7L645.8 681.6"/>
<path class="h"  d="M572 737.5L640.5 698.5"/>
<path class="k"  d="M566.4 737.5L673.7 793.5"/>
<path class="l"  d="M579.7 740.3L668.9 786.8"/>
<path class="l"  d="M566.4 737.5L565.4 751.7L569.2 759.3L574 765L673.7 821L673.7 793.5"/>
<path class="l"  d="M566.2 742.2L673.7 798.2"/>
<path class="l"  d="M565.4 751.7L673.7 810.6"/>
<path class="k"  d="M569.2 759.3L673.7 814.4"/>
<path class="h"  d="M571.5 762.5L673.7 818.2"/>
<path class="l"  d="M673.7 793.5L749 755"/>
<path class="l"  d="M673.7 798.2L749 759.5"/>
<path class="l"  d="M673.7 810.6L749 771"/>
<path class="k"  d="M673.7 814.4L749 775"/>
<path class="h"  d="M673.7 818.2L749 779"/>
<path class="l"  d="M673.7 821L749 782"/>
<path class="l"  d="M668.9 786.8L733.8 752.4"/>
<path class="h"  d="M671.5 789.5L736 755"/>
<ellipse class="l"  cx="597.7" cy="740.3" rx="9.5" ry="5.3" transform="rotate(12 597.7 740.3)"/>
<ellipse class="h"  cx="597.7" cy="740.3" rx="7.8" ry="4.2" transform="rotate(12 597.7 740.3)"/>
<ellipse class="l"  cx="671.8" cy="782.7" rx="10" ry="5.3" transform="rotate(12 671.8 782.7)"/>
<ellipse class="h"  cx="671.8" cy="782.7" rx="8.2" ry="4.2" transform="rotate(12 671.8 782.7)"/>
<path class="l"  d="M580.6 740.3C581.1 739.3 581.9 736.1 583.5 734.6C585.1 733.1 587.2 732.1 590 731.5C592.8 730.9 596.7 730.2 600 731C603.3 731.8 608 734.8 610 736.5C612 738.2 611.9 739.5 612 741.3C612.1 743 611.5 745.4 610.5 747C609.5 748.6 607 750.2 606.3 750.8"/>
<path class="l"  d="M606.3 750.8L612 750.8L619 752.5L648 771.6"/>
<path class="l"  d="M648 771.6C648.4 772.2 649.5 772.7 649.5 774C649.5 775.3 647 775.2 648 777.3C649 779.4 650.9 780.7 653.7 783C656.5 785.3 658.5 786.1 660 787"/>
<path class="l"  d="M648 771.6C649 771.2 651.8 769.6 654 769C656.2 768.4 658.3 768.1 661.3 768C664.3 767.9 668.7 767.9 672 768.5C675.3 769.1 678.6 770.1 681.3 771.4C683.9 772.6 686.2 775.3 687.9 776C689.6 776.7 690.3 776.3 691.7 775.7C693.1 775.1 694.2 773.7 696.4 772.5C698.6 771.3 703.6 769.3 705 768.7"/>
<circle cx="585.4" cy="740.3" r="0.8" fill="#000"/>
<circle cx="589.2" cy="735.6" r="0.8" fill="#000"/>
<circle cx="597.7" cy="733.3" r="0.8" fill="#000"/>
<circle cx="606.3" cy="737.5" r="0.8" fill="#000"/>
<circle cx="609.1" cy="742.2" r="0.8" fill="#000"/>
<circle cx="601.5" cy="746.6" r="0.8" fill="#000"/>
<circle cx="592" cy="747" r="0.8" fill="#000"/>
<circle cx="654" cy="776.2" r="0.8" fill="#000"/>
<circle cx="660.5" cy="782.4" r="0.8" fill="#000"/>
<circle cx="668" cy="776" r="0.8" fill="#000"/>
<circle cx="677" cy="776.6" r="0.8" fill="#000"/>
<circle cx="685" cy="776.5" r="0.8" fill="#000"/>
<circle cx="671" cy="788" r="0.8" fill="#000"/>
<circle cx="681" cy="787" r="0.8" fill="#000"/>
<path class="k"  d="M664.5 776.5L679 777.5"/>
<path class="l"  d="M615.8 736.5L642.3 721.3L668 735.6L637.6 751.7Z"/>
<path class="l"  d="M615.8 736.5L615.8 741.2L637.6 757.4L668 740.9L668 735.6"/>
<path class="l"  d="M637.6 751.7L637.6 757.4"/>
<path class="l"  d="M613.9 724.2C613.5 725.7 611.5 729.5 611.5 733C611.5 736.5 612.9 741.9 613.9 745C614.9 748.1 617.1 750.6 617.7 751.7"/>
<path class="l"  d="M642.3 709L642.3 720.4"/>
<path class="k"  d="M664.2 740.3L699.3 758.4"/>
<path class="h"  d="M666 738.2L701 756.2"/>
<ellipse class="b"  cx="698.5" cy="757.5" rx="1.3" ry="2.8" transform="rotate(25 698.5 757.5)"/>
<ellipse class="b"  cx="665" cy="740.2" rx="2.2" ry="1.3" transform="rotate(25 665 740.2)"/>
<path class="l"  d="M699.3 758.4L712 765.5"/>
<path class="h"  d="M701 756.2L714 763.5"/>
<path class="h"  d="M658.5 708L705 734.6L733.8 751.5"/>
<path class="h"  d="M603 752.5L646 775.5"/>
<path class="l"  d="M600 726.5L641 704L649.5 707.5L606 731"/>
<path class="kk"  d="M604 726.5L644 706"/>
<path class="l"  d="M645 708.5L655 706L658.5 707.5L650 710.5"/>
<path class="l"  d="M667.2 692.3L749 651"/>
<path class="l"  d="M696 709.6L749 689"/>
<path class="l"  d="M705.8 714.6L749 693.2"/>
<path class="l"  d="M696.8 707.2L712.4 700.6L713.5 702.4L698 709"/>
<ellipse class="l"  cx="720.6" cy="700.6" rx="2" ry="1.4" transform="rotate(0 720.6 700.6)"/>
</g>
<g id="D">
<path class="l"  d="M566.6 638.1C566.5 636.1 565.5 631 566 628C566.5 625 566.7 626.7 569.1 622.9C571.5 619.1 574.8 612.9 578 609C581.2 605.1 582.5 604.3 584.9 603.3C587.3 602.3 589 603.8 590 603.9"/>
<path class="h"  d="M568.6 630C569.1 628.9 569.6 626.8 571.5 623.5C573.4 620.2 577.7 613.5 580 610.5C582.3 607.5 584.6 606.3 585.5 605.5"/>
<path class="l"  d="M590 603.9L623.5 623.5"/>
<path class="l"  d="M623.5 623.5C624 623.9 626 625 626.5 625.8C627 626.5 626.8 627 626.7 628C626.6 629 626.2 631.2 626.1 631.8"/>
<path class="l"  d="M626.1 631.8L618.5 643.2"/>
<path class="h"  d="M624.5 634C624 634.3 622.7 634.6 621.5 636C620.3 637.4 618.2 641.4 617.5 642.5"/>
<path class="l"  d="M567.2 638.1L608.4 615.3"/>
<path class="l"  d="M618.5 643.2L610.9 657.1"/>
<path class="l"  d="M618.5 643.2L621 645.7L626.7 648.2L619.7 658.4L608.4 676L595.7 682.4"/>
<path class="h"  d="M621 645.7L607.7 667.2L597 676.5"/>
<path class="h"  d="M613.5 651C613.2 651.3 611.9 652 611.5 653C611.1 654 611 656.4 610.9 657.1"/>
<path class="l"  d="M556.5 624.2L563.4 612.5L568.5 615.3L561.5 628"/>
<path class="h"  d="M566.5 616L560.5 626.5"/>
<path class="h"  d="M549 613.5L556.5 618L558 616"/>
<path class="l"  d="M585.6 664.7L593.8 659.6L597 662.2L588.7 667.8Z"/>
<path class="h"  d="M585.6 664.7L585.6 667L588.7 670L588.7 667.8"/>
<path class="h"  d="M588.5 664.8L594 661.4"/>
<path class="h"  d="M588.7 670L598 675L606 671"/>
<path class="l"  d="M618.5 659.6L618.5 686.2"/>
<path class="l"  d="M622.3 655.8L635 663.4"/>
<path class="l"  d="M618.5 666L631.1 673.5"/>
<path class="l"  d="M496.6 665C496.8 663.1 496.4 657.2 497.5 653.7C498.6 650.2 501 646.7 503.2 644.2C505.4 641.7 508.6 640.2 510.8 638.5C513 636.8 513.6 635.8 516.5 633.7C519.4 631.6 526 627.4 527.9 626.1"/>
<path class="l"  d="M501.3 668.9C501.3 667 500.4 661.1 501.3 657.5C502.2 653.9 504.8 649.7 507 647C509.2 644.3 512.2 641.9 514.6 641.3C517 640.7 520.2 642.9 521.3 643.2"/>
<ellipse class="l"  cx="510.3" cy="654.6" rx="5.3" ry="7.6" transform="rotate(25 510.3 654.6)"/>
<ellipse class="h"  cx="511" cy="655" rx="4" ry="6.2" transform="rotate(25 511 655)"/>
<path class="l"  d="M516.5 674.6C516.7 673 516.4 668.1 517.5 665.1C518.6 662.1 521 658.7 523.2 656.5C525.4 654.3 528.3 653.1 530.8 651.8C533.3 650.5 535.7 650 538.4 648.9C541.1 647.8 545.6 645.6 547 645"/>
<path class="l"  d="M521.3 682.2C521.3 680 520.4 672.5 521.3 668.9C522.2 665.3 524.3 662.7 526.5 660.5C528.7 658.3 532.1 656.1 534.6 655.6C537.1 655.1 540.1 657.2 541.2 657.5"/>
<ellipse class="l"  cx="531.1" cy="666" rx="5.5" ry="7.8" transform="rotate(25 531.1 666)"/>
<ellipse class="h"  cx="531.8" cy="666.4" rx="4.1" ry="6.3" transform="rotate(25 531.8 666.4)"/>
<path class="l"  d="M496.6 665L501.3 668.9L501.3 674"/>
<path class="l"  d="M516.5 674.6L521.3 682.2L521.3 686.5"/>
<path class="h"  d="M501.3 668.9L517 661"/>
<path class="l"  d="M488.4 667L488.4 672.7L525.1 693.5L543.1 690L551.6 688.5L559.2 693.5L575.4 700.2"/>
<path class="l"  d="M488.4 667L497 664.5"/>
<path class="l"  d="M488.4 667L525.1 688.8L543.1 685.5L551.6 683.8L559.2 687.8L559.2 693.5"/>
<path class="l"  d="M525.1 688.8L525.1 693.5"/>
<path class="h"  d="M521.3 686.5L547 677"/>
<path class="h"  d="M541.2 657.5L560 671"/>
<ellipse class="l"  cx="543.1" cy="654.6" rx="1.8" ry="2.2" transform="rotate(0 543.1 654.6)"/>
<ellipse class="b"  cx="545" cy="661.3" rx="1.8" ry="2.2" transform="rotate(0 545 661.3)"/>
<path class="l"  d="M536.5 667.9L563 683.1"/>
<ellipse class="l"  cx="551.5" cy="675.5" rx="1" ry="1.5" transform="rotate(30 551.5 675.5)"/>
<ellipse class="l"  cx="556.5" cy="679" rx="1" ry="1.5" transform="rotate(30 556.5 679)"/>
<ellipse class="l"  cx="562" cy="682.5" rx="1.3" ry="1.8" transform="rotate(30 562 682.5)"/>
<path class="l"  d="M470 688.8L494.7 676.5"/>
<path class="l"  d="M478.5 730L544 689.7"/>
<path class="l"  d="M456.5 483C455.5 482.3 452.4 479.6 450.3 478.6C448.2 477.6 446.1 476.7 444.2 476.9C442.3 477.1 440.7 478.2 439.2 479.6C437.7 481 436 483.2 435.1 485.2C434.2 487.1 433.6 489.5 434.1 491.3C434.6 493.1 436.3 494.3 438.2 495.8C440.1 497.3 443.4 499.1 445.3 500.4C447.2 501.7 448.6 502.9 449.3 503.4"/>
<ellipse class="w"  cx="453.2" cy="493.2" rx="6.6" ry="9.8" transform="rotate(25 453.2 493.2)"/>
<ellipse class="l"  cx="452.8" cy="493.8" rx="3.8" ry="5.8" transform="rotate(25 452.8 493.8)"/>
<path class="l"  d="M448.1 503L471.3 536.3L494 565.5"/>
<path class="l"  d="M459.5 496.7L487.1 535L508 565.4"/>
<path class="l"  d="M490.3 563.5C490 564.5 488.1 567.4 488.4 569.8C488.7 572.2 490 574.5 492.2 578C494.4 581.5 500 588.6 501.6 590.7"/>
<path class="l"  d="M501.6 590.7L511.8 591.3"/>
<path class="h"  d="M492.2 578C492.8 578.2 494.5 579.3 496 579.5C497.5 579.7 500.2 579.3 501 579.3"/>
<path class="h"  d="M494 565.5C494.5 566.3 495.9 569.3 497 570.5C498.1 571.7 499.9 572.2 500.5 572.5"/>
<path class="l"  d="M502.3 555.9C503.2 555.9 506.1 554.9 508 555.9C509.9 556.9 512.8 559.6 513.7 561.6C514.7 563.6 514.2 566 513.7 567.9C513.2 569.8 511 572.1 510.5 573"/>
<path class="h"  d="M502.3 555.9C503.1 556.8 506 559.8 507 561.5C508 563.2 508.4 564.6 508.2 566C508 567.4 506.4 569.3 506 570"/>
<path class="l"  d="M513.7 561.6C515 563.3 521.9 571.9 523.2 574.2C524.5 576.5 524.1 577.3 523.8 578.7C523.5 580.1 521 584.2 520.6 585"/>
<path class="l"  d="M504.8 592.6L582 698.6"/>
<path class="l"  d="M523.8 578.7L601 691.6"/>
<path class="l"  d="M574.4 699.2C574.2 700.5 573 704.4 573.5 706.8C574 709.2 575.6 711.9 577.3 713.5C579 715.1 582.8 715.8 583.9 716.3"/>
<ellipse class="l"  cx="582" cy="706.5" rx="4.2" ry="6.2" transform="rotate(25 582 706.5)"/>
<path class="l"  d="M573.5 717.3L573.5 721L585.8 726.8L600 720.5"/>
<path class="l"  d="M573.5 717.3L585.8 723L597 718"/>
<path class="l"  d="M594.4 720.1C594.5 718.2 594.2 711.9 595.3 708.7C596.4 705.5 598.5 703 601 701.1C603.5 699.2 607.7 697.7 610.5 697.3C613.3 696.9 616.8 698.3 618 698.5"/>
<path class="h"  d="M598.5 722.5C598.7 720.6 598.6 714.1 599.5 711C600.4 707.9 602.1 705.7 604 704C605.9 702.3 609.8 701.5 611 701"/>
<ellipse class="l"  cx="611.5" cy="709.5" rx="8.2" ry="10.5" transform="rotate(40 611.5 709.5)"/>
<ellipse class="k"  cx="612" cy="709.8" rx="6" ry="8" transform="rotate(40 612 709.8)"/>
<ellipse class="l"  cx="612.5" cy="710" rx="3.6" ry="5" transform="rotate(40 612.5 710)"/>
</g>
<g id="F">
<path class="l"  d="M327.2 632.3L395.6 725.2"/>
<path class="l"  d="M346.2 618.9L412 713.8"/>
<path class="l"  d="M395.6 725.2L396.8 729L407 735.3"/>
<path class="h"  d="M397 727.5L401 726.5"/>
<ellipse class="w"  cx="413.3" cy="727.7" rx="6.6" ry="9.6" transform="rotate(25 413.3 727.7)"/>
<ellipse class="l"  cx="413.8" cy="728" rx="3.4" ry="5.6" transform="rotate(25 413.8 728)"/>
<path class="h"  d="M412 713.8L412.5 717L415.8 719.4"/>
<path class="w"  d="M308 670.7C306.5 672.5 303.3 674.5 301.4 674.7C299.6 674.9 296.6 673.8 295.5 672.3C294.3 670.8 293.3 667.2 293.5 664.8C293.7 662.5 295.3 658.5 296.8 656.7C298.3 654.9 301.5 652.9 303.4 652.7C305.2 652.5 308.2 653.6 309.3 655.1C310.5 656.6 311.5 660.2 311.3 662.6C311.1 664.9 309.5 668.9 308 670.7Z"/>
<ellipse class="l"  cx="302.4" cy="663.7" rx="5.2" ry="7.3" transform="rotate(22 302.4 663.7)"/>
<ellipse class="h"  cx="302.4" cy="663.7" rx="4" ry="5.7" transform="rotate(22 302.4 663.7)"/>
<path class="w"  d="M326 681.6C324.5 683.4 321.3 685.4 319.4 685.6C317.6 685.8 314.6 684.7 313.5 683.2C312.3 681.7 311.3 678.1 311.5 675.7C311.7 673.4 313.3 669.4 314.8 667.6C316.3 665.8 319.5 663.8 321.4 663.6C323.2 663.4 326.2 664.5 327.3 666C328.5 667.5 329.5 671.1 329.3 673.5C329.1 675.8 327.5 679.8 326 681.6Z"/>
<ellipse class="l"  cx="320.4" cy="674.6" rx="5.2" ry="7.3" transform="rotate(22 320.4 674.6)"/>
<ellipse class="h"  cx="320.4" cy="674.6" rx="4" ry="5.7" transform="rotate(22 320.4 674.6)"/>
<path class="w"  d="M342.9 691.7C341.4 693.5 338.2 695.5 336.3 695.7C334.5 695.9 331.5 694.8 330.4 693.3C329.2 691.8 328.2 688.2 328.4 685.8C328.6 683.5 330.2 679.5 331.7 677.7C333.2 675.9 336.4 673.9 338.3 673.7C340.1 673.5 343.1 674.6 344.2 676.1C345.4 677.6 346.4 681.2 346.2 683.6C346 685.9 344.4 689.9 342.9 691.7Z"/>
<ellipse class="l"  cx="337.3" cy="684.7" rx="5.2" ry="7.3" transform="rotate(22 337.3 684.7)"/>
<ellipse class="h"  cx="337.3" cy="684.7" rx="4" ry="5.7" transform="rotate(22 337.3 684.7)"/>
<path class="w"  d="M436 745.2C434.5 747 431.3 749 429.4 749.2C427.6 749.4 424.6 748.3 423.5 746.8C422.3 745.3 421.3 741.7 421.5 739.3C421.7 737 423.3 733 424.8 731.2C426.3 729.4 429.5 727.4 431.4 727.2C433.2 727 436.2 728.1 437.3 729.6C438.5 731.1 439.5 734.7 439.3 737.1C439.1 739.4 437.5 743.4 436 745.2Z"/>
<ellipse class="l"  cx="430.4" cy="738.2" rx="5.2" ry="7.3" transform="rotate(22 430.4 738.2)"/>
<ellipse class="h"  cx="430.4" cy="738.2" rx="4" ry="5.7" transform="rotate(22 430.4 738.2)"/>
<path class="l"  d="M294.3 675.3L280.4 697.3L298.1 707.5L313.3 684.7"/>
<path class="l"  d="M289.2 703.2L274.6 727"/>
<path class="l"  d="M333.5 696.1L315.8 749.2"/>
<path class="l"  d="M344.2 689L384.2 711.3"/>
<path class="l"  d="M415.8 719.4L494.7 676.5"/>
<path class="l"  d="M424 749.1L397.5 795"/>
<text class="n" x="264.4" y="743.4">9</text>
<text class="n" x="306.5" y="768.2">10</text>
<text class="n" x="384.8" y="812.3">9</text>
<text class="n" x="421" y="833.5">5</text>
<text class="n" x="462" y="858.1">6</text>
<text class="n" x="490.8" y="873.5">8</text>
<text class="n" x="523" y="892.2">7</text>
<path class="l"  d="M549.4 691.1L446.8 747.3L464.6 758"/>
<path class="l"  d="M469.6 754.7L491.9 765.9"/>
<path class="l"  d="M465.4 765.9L485.6 777"/>
<path class="l" d="M469.6 754.7C466.5 755 464.3 758.5 464 762.4C464 764.5 464.6 765.6 465.4 765.9"/>
<ellipse class="w"  cx="494" cy="775" rx="8.2" ry="11" transform="rotate(25 494 775)"/>
<path d="M499 766L504.4 763.1L507.6 767.3L503 771.5L498 771Z" fill="#fff" stroke="none"/>
<path class="l"  d="M499.3 765.6L504.4 763.1L507.6 767.3L503.2 770.9"/>
<ellipse class="l"  cx="494.6" cy="775.2" rx="5.6" ry="7.6" transform="rotate(25 494.6 775.2)"/>
<path class="k" d="M492.5 769.8C496.5 768.8 499.5 771.5 498.8 776M497.5 779.5C496 781.5 493.5 781.8 492 781"/>
<path class="l"  d="M474.5 772.2L434.2 818.7"/>
<path class="l" stroke-width="1.4" d="M510.7 768L514.2 765.9L517 775L513.5 778.4L511.4 772.9Z"/>
<path class="l"  d="M512.7 778.6L474.2 841.5"/>
<ellipse class="l"  cx="524" cy="781.5" rx="4.4" ry="5.3" transform="rotate(25 524 781.5)"/>
<ellipse class="l"  cx="524.2" cy="781.6" rx="1.9" ry="2.6" transform="rotate(25 524.2 781.6)"/>
<path class="l"  d="M521.8 787.2L500 855.4"/>
<path class="l"  d="M531.3 786.1L534.4 784L549.7 791.7L545.5 797.2L531.3 789.6Z"/>
<path class="h"  d="M537 785.4L534.6 791.2"/>
<path class="h"  d="M540 786.9L537.6 792.7"/>
<path class="h"  d="M543 788.4L540.6 794.2"/>
<path class="h"  d="M546 789.9L543.6 795.7"/>
<path class="w"  d="M545.5 793L551.1 789.6L556.7 794.4L556 799.3L551.1 802.8L546.2 800Z"/>
<path class="h"  d="M551.1 789.6L549.7 796.5L551.1 802.8"/>
<path class="h"  d="M549.7 796.5L545.5 793.5"/>
<path class="l"  d="M539.3 795.8L529.1 873.4"/>
<circle cx="386" cy="817" r="0.6" fill="#333"/>
<circle cx="491.3" cy="879.3" r="0.6" fill="#333"/>
<circle cx="523" cy="898" r="0.6" fill="#333"/>
</g>
</svg>
</body></html>
